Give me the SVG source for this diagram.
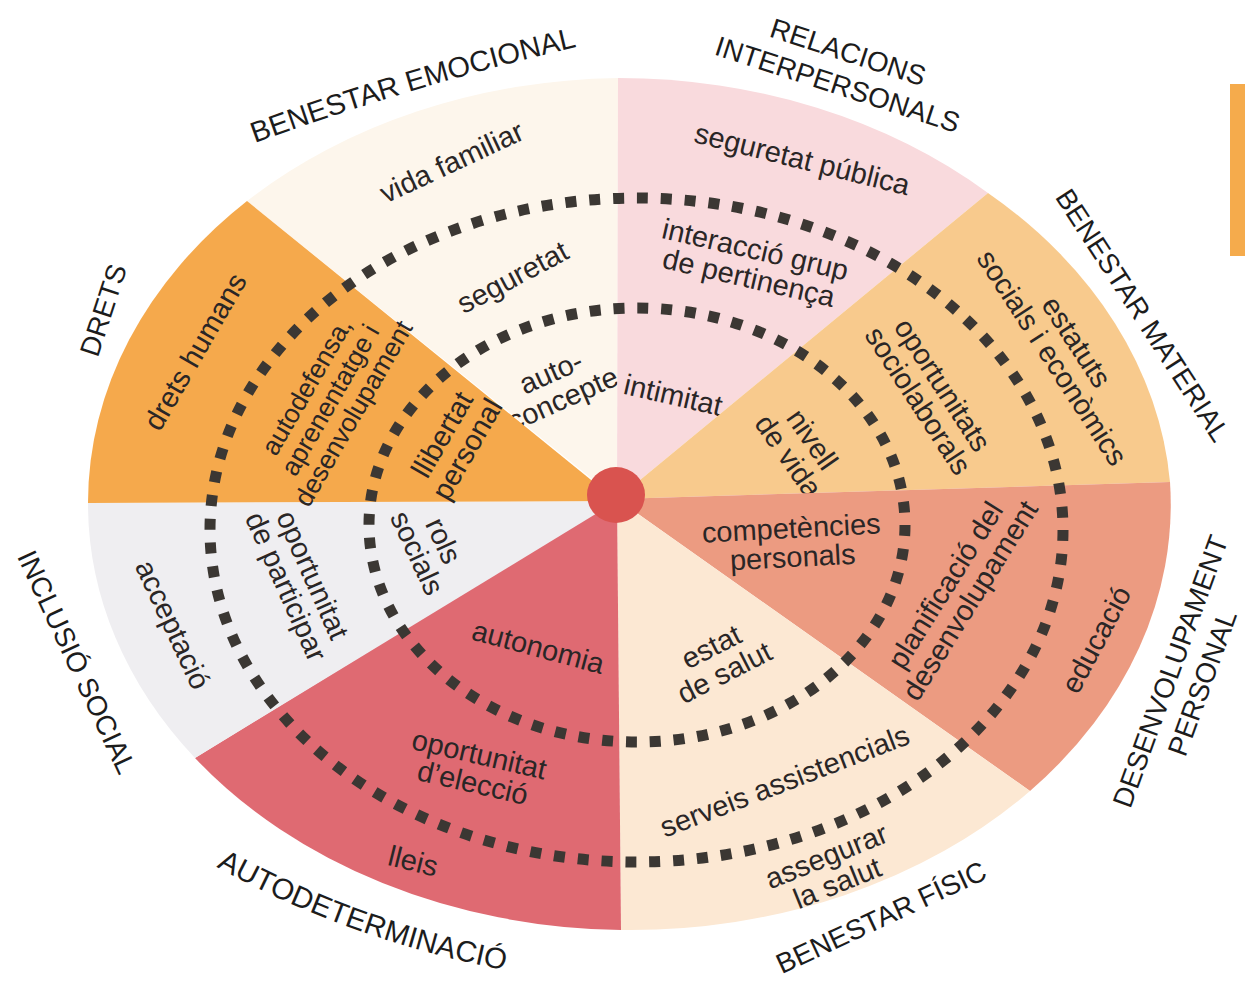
<svg xmlns="http://www.w3.org/2000/svg" width="1245" height="984" viewBox="0 0 1245 984">
<style>
.lab{font-family:"Liberation Sans",Arial,sans-serif;font-size:28px;fill:#1c1c1c;text-anchor:middle}
.t{font-family:"Liberation Sans",Arial,sans-serif;font-size:29px;fill:#2a2626;text-anchor:middle}
.ring{fill:none;stroke:#3b3733;stroke-width:11}
</style>
<defs>
<path id="p-emo" d="M247,146 Q416,84 585,45"/>
<path id="p-auto" d="M208,862 Q345,940 514,972"/>
</defs>
<rect x="0" y="0" width="1245" height="984" fill="#ffffff"/>
<rect x="1230" y="84" width="15" height="172" fill="#f5ab4c"/>

<g id="benestar-emocional">
<path d="M617,499 L247,201 A541,426 0 0 1 618,78 Z" fill="#fdf6ec"/>
<text class="lab" style="font-size:29px"><textPath href="#p-emo" startOffset="50%">BENESTAR EMOCIONAL</textPath></text>
<text class="t" transform="translate(452,163) rotate(-25)" y="9">vida familiar</text>
<text class="t" transform="translate(513,278) rotate(-28)" y="9">seguretat</text>
<text class="t" transform="translate(557,386) rotate(-24)"><tspan x="0" y="-5">auto-</tspan><tspan x="0" y="24">concepte</tspan></text>
</g>

<g id="relacions-interpersonals">
<path d="M617,499 L618,78 A541,426 0 0 1 988,193 Z" fill="#f9dadd"/>
<text class="lab" transform="translate(843,68) rotate(18)"><tspan x="0" y="-7">RELACIONS</tspan><tspan x="0" y="27">INTERPERSONALS</tspan></text>
<text class="t" transform="translate(802,160) rotate(14)" y="9">seguretat pública</text>
<text class="t" transform="translate(752,264) rotate(13)"><tspan x="0" y="-5">interacció grup</tspan><tspan x="0" y="24">de pertinença</tspan></text>
<text class="t" transform="translate(673,396) rotate(13)" y="9">intimitat</text>
</g>

<g id="benestar-material">
<path d="M617,499 L988,193 A541,426 0 0 1 1170,482 Z" fill="#f8ca8d"/>
<text class="lab" transform="translate(1143,315) rotate(57)" y="10">BENESTAR MATERIAL</text>
<text class="t" transform="translate(1064,350) rotate(57)"><tspan x="0" y="-5">estatuts</tspan><tspan x="0" y="24">socials i econòmics</tspan></text>
<text class="t" transform="translate(930,393) rotate(57)"><tspan x="0" y="-5">oportunitats</tspan><tspan x="0" y="24">sociolaborals</tspan></text>
<text class="t" transform="translate(800,448) rotate(55)"><tspan x="0" y="-5">nivell</tspan><tspan x="0" y="24">de vida</tspan></text>
</g>

<g id="desenvolupament-personal">
<path d="M617,499 L1170,482 A541,426 0 0 1 1030,791 Z" fill="#ec9b81"/>
<text class="lab" transform="translate(1186,677) rotate(-70)"><tspan x="0" y="-7">DESENVOLUPAMENT</tspan><tspan x="0" y="27">PERSONAL</tspan></text>
<text class="t" transform="translate(792,543) rotate(-3)"><tspan x="0" y="-5">competències</tspan><tspan x="0" y="24">personals</tspan></text>
<text class="t" transform="translate(958,593) rotate(-58)"><tspan x="0" y="-5">planificació del</tspan><tspan x="0" y="24">desenvolupament</tspan></text>
<text class="t" transform="translate(1097,640) rotate(-62)" y="9">educació</text>
</g>

<g id="benestar-fisic">
<path d="M617,499 L1030,791 A541,426 0 0 1 621,930 Z" fill="#fce8d3"/>
<text class="lab" transform="translate(881,917) rotate(-25)" y="10">BENESTAR FÍSIC</text>
<text class="t" transform="translate(718,660) rotate(-27)"><tspan x="0" y="-5">estat</tspan><tspan x="0" y="24">de salut</tspan></text>
<text class="t" transform="translate(785,782) rotate(-21)" y="9">serveis assistencials</text>
<text class="t" transform="translate(832,870) rotate(-22)"><tspan x="0" y="-5">assegurar</tspan><tspan x="0" y="24">la salut</tspan></text>
</g>

<g id="autodeterminacio">
<path d="M617,499 L621,930 A541,426 0 0 1 195,758 Z" fill="#df6a72"/>
<text class="lab" style="font-size:29.5px"><textPath href="#p-auto" startOffset="50%">AUTODETERMINACIÓ</textPath></text>
<text class="t" transform="translate(538,648) rotate(15)" y="9">autonomia</text>
<text class="t" transform="translate(476,769) rotate(13)"><tspan x="0" y="-5">oportunitat</tspan><tspan x="0" y="24">d’elecció</tspan></text>
<text class="t" transform="translate(413,862) rotate(14)" y="9">lleis</text>
</g>

<g id="inclusio-social">
<path d="M617,501 L195,758 A541,426 0 0 1 88,503 Z" fill="#efeef1"/>
<text class="lab" transform="translate(77,662) rotate(65)" y="10">INCLUSIÓ SOCIAL</text>
<text class="t" transform="translate(172,625) rotate(65)" y="9">acceptació</text>
<text class="t" transform="translate(299,581) rotate(66)"><tspan x="0" y="-5">oportunitat</tspan><tspan x="0" y="24">de participar</tspan></text>
<text class="t" transform="translate(430,547) rotate(65)"><tspan x="0" y="-5">rols</tspan><tspan x="0" y="24">socials</tspan></text>
</g>

<g id="drets">
<path d="M617,501 L88,503 A541,426 0 0 1 247,201 Z" fill="#f5a94c"/>
<text class="lab" transform="translate(103,310) rotate(-72)" y="10">DRETS</text>
<text class="t" transform="translate(196,352) rotate(-60)" y="9">drets humans</text>
<text class="t" style="font-size:26.5px" transform="translate(330,400) rotate(-60)"><tspan x="0" y="-18">autodefensa,</tspan><tspan x="0" y="9">aprenentatge i</tspan><tspan x="0" y="36">desenvolupament</tspan></text>
<text class="t" transform="translate(455,442) rotate(-60)"><tspan x="0" y="-5">llibertat</tspan><tspan x="0" y="24">personal</tspan></text>
</g>

<g id="connectors">
<ellipse class="ring" cx="636.5" cy="530" rx="426.5" ry="332" stroke-dasharray="11 12.92"/>
<ellipse class="ring" cx="637" cy="525" rx="268" ry="217" stroke-dasharray="11 12.87"/>
</g>

<g id="centre">
<ellipse cx="616" cy="495" rx="29" ry="28" fill="#d9534f"/>
</g>
</svg>
